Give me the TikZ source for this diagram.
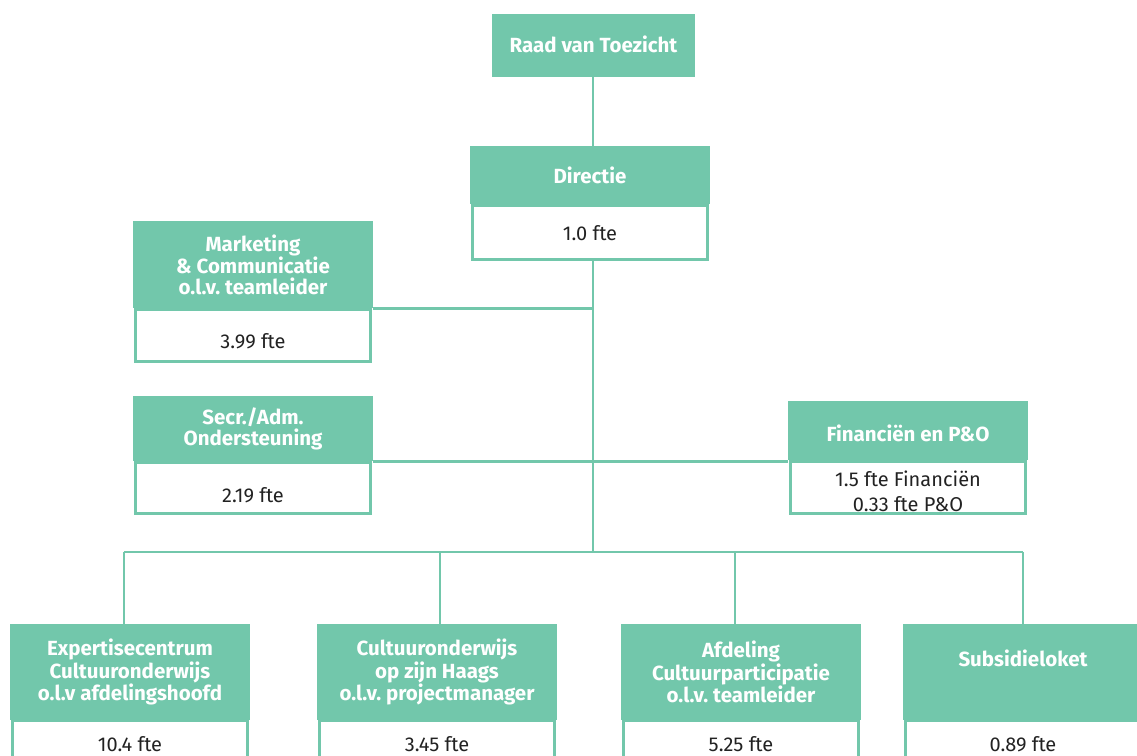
\documentclass[tikz,border=0pt]{standalone}
\usepackage{fontspec}
\setmainfont{Fira Sans}
\definecolor{grn}{HTML}{72C7AB}
\definecolor{txt}{HTML}{222222}
\newcommand{\mv}[2]{\raisebox{#1}[0pt][0pt]{#2}}
\begin{document}
\begin{tikzpicture}[x=1pt,y=-1pt,
  head/.style={fill=grn, draw=none, text=white, inner sep=0pt, align=center,
    font=\fontsize{20.5}{21}\selectfont\bfseries, minimum width=240pt},
  val/.style={fill=white, draw=grn, line width=2.8pt, text=txt, inner sep=0pt,
    align=center, font=\fontsize{20}{25}\selectfont, minimum width=235pt},
  conn/.style={draw=grn, line width=2.8pt}]
\useasboundingbox (0,0) rectangle (1137,755);
\clip (0,0) rectangle (1137,755);

% top
\node[head, minimum width=203pt, minimum height=63pt] (rvt) at (593.5,45) {\mv{-7pt}{Raad van Toezicht}};
\node[val, minimum height=54pt] (dirf) at (590,232.5) {\mv{-7.5pt}{1.0 fte}};
\node[head, minimum height=58pt] (dir) at (590,175) {\mv{-8pt}{Directie}};

% left side
\node[val, minimum height=52pt] (mkf) at (253,335.5) {\mv{-12.5pt}{3.99 fte}};
\node[head, minimum height=87pt] (mk) at (253,264.5) {Marketing\\\&~Communicatie\\o.l.v.~teamleider};
\node[val, minimum height=51pt] (scf) at (253,488) {\mv{-14pt}{2.19 fte}};
\node[head, minimum height=65pt] (sc) at (253,428.5) {Secr./Adm.\\Ondersteuning};

% right side
\node[val, minimum height=52pt] (finf) at (908,487.5) {};
\node[val, draw=none, fill=none] (fint) at ([yshift=-3.7pt]finf.center) {1.5 fte Financiën\\0.33 fte P\&O};
\node[head, minimum height=59pt] (fin) at (908,430.5) {\mv{-10.5pt}{Financiën en P\&O}};

% bottom row
\node[val, minimum height=78pt] (b1f) at (130,760) {\mv{9pt}{10.4 fte}};
\node[head, minimum height=96pt] (b1) at (130,672) {Expertisecentrum\\Cultuuronderwijs\\o.l.v afdelingshoofd};
\node[val, minimum height=78pt] (b2f) at (437,760) {\mv{9pt}{3.45 fte}};
\node[head, minimum height=96pt] (b2) at (437,672) {Cultuuronderwijs\\op zijn Haags\\o.l.v.~projectmanager};
\node[val, minimum height=78pt] (b3f) at (741,760) {\mv{9pt}{5.25 fte}};
\node[head, minimum height=96pt] (b3) at (741,672) {Afdeling\\Cultuurparticipatie\\o.l.v.~teamleider};
\node[val, minimum height=78pt] (b4f) at (1023,760) {\mv{9pt}{0.89 fte}};
\node[head, minimum height=96pt] (b4) at (1023,672) {\mv{6pt}{Subsidieloket}};

% connectors
\coordinate (bus) at (593,552);
\draw[conn] (rvt.south -| bus) -- (dir.north -| bus);
\draw[conn] (dirf.south -| bus) -- (bus);
\draw[conn] (mk.south east) -- (mk.south east -| bus);
\draw[conn] (sc.south east) -- (sc.south east -| fin.west);
\draw[conn] ([xshift=-6pt]b1.north |- bus) -- (b4.north |- bus);
\draw[conn] ([xshift=-6pt]b1.north) -- ([xshift=-6pt]b1.north |- bus);
\draw[conn] ([xshift=3pt]b2.north) -- ([xshift=3pt]b2.north |- bus);
\draw[conn] ([xshift=-6pt]b3.north) -- ([xshift=-6pt]b3.north |- bus);
\draw[conn] (b4.north) -- (b4.north |- bus);
\end{tikzpicture}
\end{document}
